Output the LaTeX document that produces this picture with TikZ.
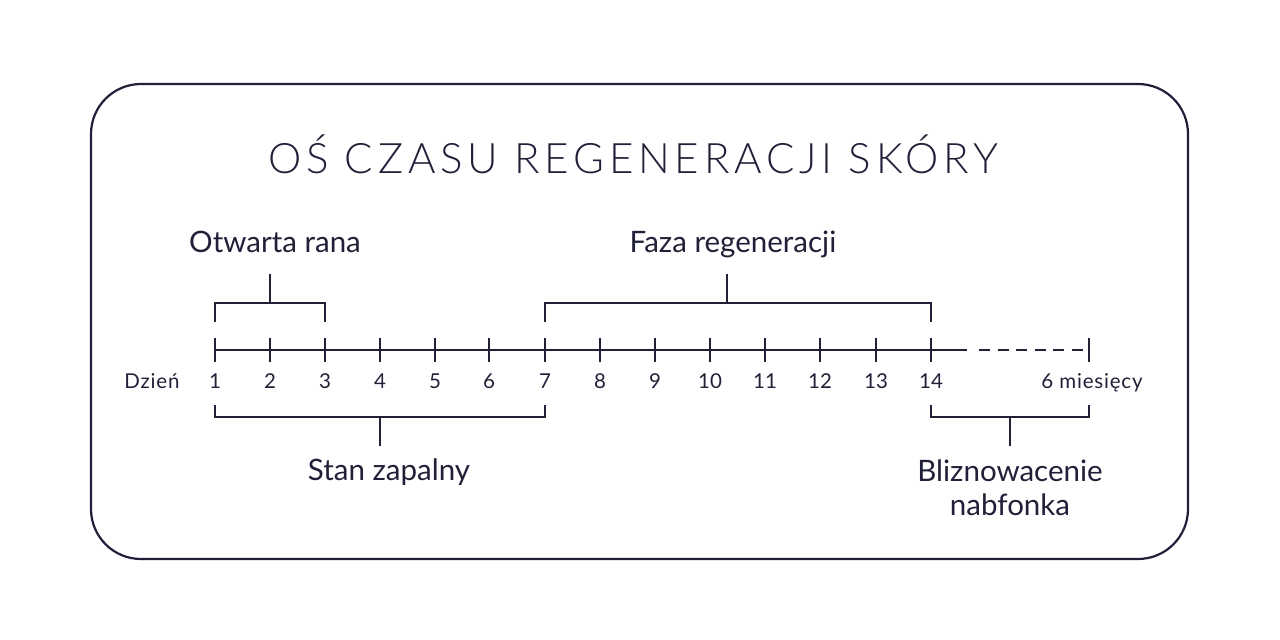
\documentclass[tikz,border=0pt]{standalone}
\usepackage{fontspec}
\setmainfont{Lato}
\newfontfamily\titlefont{Lato Light}[LetterSpace=11.5]
\newfontfamily\smallfont{Lato}[LetterSpace=4]
\definecolor{ink}{RGB}{32,32,56}
\begin{document}
\begin{tikzpicture}[x=1pt,y=-1pt,
  line width=2pt, draw=ink, text=ink,
  lbl/.style={anchor=base,inner sep=0pt,font=\fontsize{29.5}{34}\selectfont},
  num/.style={anchor=base,inner sep=0pt,font=\fontsize{20.5}{24}\selectfont},
  small/.style={anchor=base,inner sep=0pt,font=\smallfont\fontsize{20.5}{24}\selectfont},
  tickline/.style={line width=2pt,draw=ink}]
\useasboundingbox (0,0) rectangle (1280,640);
\draw[line width=2.2pt, rounded corners=50pt] (91,84) rectangle (1188,559);
\node[anchor=base,inner sep=0pt,font=\titlefont\fontsize{42}{50}\selectfont] (title) at (633,173) {OŚ CZASU REGENERACJI SKÓRY};
% ticks
\foreach \i/\x in {1/215,2/270,3/325,4/380,5/435,6/489,7/545,8/600,9/655,10/710,11/765,12/820,13/876,14/931}{
  \coordinate (t\i) at (\x,350);
  \draw[tickline] (\x,338) -- (\x,362);
  \node[num] (n\i) at (\x,388) {\i};
}
\coordinate (tend) at (1089,350);
\draw[tickline] (1089,338) -- (1089,362);
\draw (t1) -- (967,350) coordinate (solidend);
\draw[dash pattern=on 11pt off 7.5pt] (979,350) -- (tend);
\node[small] (dzien) at (152,388) {Dzień};
\node[small] (mies) at (1092,388) {6 miesięcy};
% top brackets
\draw (t1 |- 0,322) -- (t1 |- 0,303) -- (t3 |- 0,303) -- (t3 |- 0,322);
\draw (270,303) -- (270,274);
\node[lbl] (otw) at (275,252) {Otwarta rana};
\draw (t7 |- 0,322) -- (t7 |- 0,303) -- (t14 |- 0,303) -- (t14 |- 0,322);
\draw (727,303) -- (727,274);
\node[lbl] (faza) at (733,252) {Faza regeneracji};
% bottom brackets
\draw (t1 |- 0,405) -- (t1 |- 0,417) -- (t7 |- 0,417) -- (t7 |- 0,405);
\draw (380,417) -- (380,446);
\node[lbl] (stan) at (389,480) {Stan zapalny};
\draw (t14 |- 0,405) -- (t14 |- 0,417) -- (tend |- 0,417) -- (tend |- 0,405);
\draw (1010,417) -- (1010,446);
\node[lbl] (blizn) at (1010,481) {Bliznowacenie};
\node[lbl] (nabf) at (1010,515) {nabfonka};
\end{tikzpicture}
\end{document}
